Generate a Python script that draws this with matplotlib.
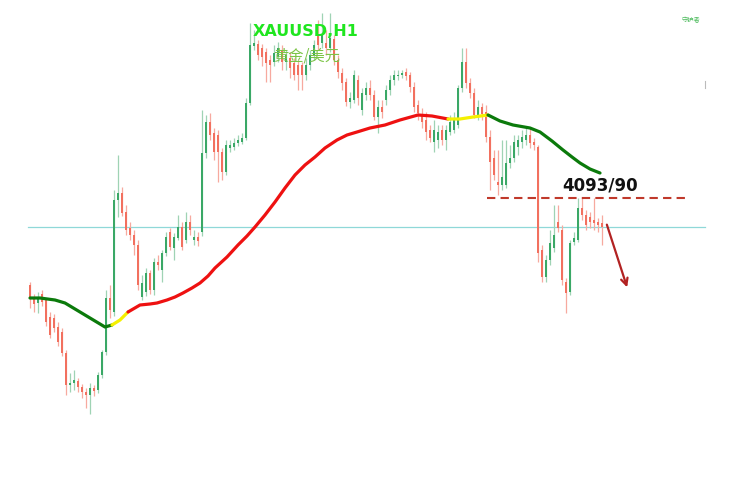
import numpy as np
import matplotlib
matplotlib.use("Agg")
import matplotlib.pyplot as plt

# XAUUSD H1 candles (oldest first)
opens = [4006, 3993, 3988, 3997, 3991, 3974, 3973, 3964, 3959, 3938,
         3906, 3908, 3910, 3904, 3899, 3896, 3903, 3901, 3916, 3939,
         3993, 3979, 4091, 4098, 4079, 4063, 4056, 4046, 3994, 3999,
         4018, 4001, 4029, 4021, 4038, 4059, 4043, 4053, 4064, 4051,
         4069, 4051, 4054, 4059, 4138, 4169, 4158, 4156, 4139, 4119,
         4143, 4144, 4148, 4149, 4153, 4188, 4245, 4247, 4243, 4239,
         4231, 4229, 4234, 4241, 4229, 4233, 4228, 4226, 4226, 4216,
         4226, 4236, 4256, 4248, 4248, 4243, 4252, 4231, 4218, 4209,
         4189, 4191, 4211, 4181, 4196, 4203, 4196, 4174, 4184, 4191,
         4201, 4211, 4215, 4216, 4219, 4216, 4204, 4186, 4176, 4171,
         4161, 4149, 4151, 4161, 4151, 4159, 4161, 4166, 4203, 4229,
         4208, 4198, 4174, 4184, 4179, 4154, 4133, 4109, 4106, 4106,
         4128, 4133, 4144, 4149, 4151, 4156, 4149, 4144, 4041, 4014,
         4031, 4043, 4069, 4061, 4009, 3999, 4049, 4051, 4083, 4076,
         4074, 4071, 4069, 4068]
closes = [3994, 3987, 3994, 3989, 3969, 3956, 3963, 3949, 3938, 3906,
          3908, 3911, 3904, 3899, 3896, 3903, 3900, 3916, 3939, 3993,
          3981, 4091, 4098, 4078, 4061, 4056, 4046, 4006, 4008, 4018,
          4001, 4029, 4026, 4038, 4054, 4044, 4054, 4064, 4044, 4069,
          4061, 4054, 4050, 4138, 4169, 4156, 4139, 4139, 4119, 4146,
          4146, 4148, 4151, 4153, 4188, 4246, 4248, 4236, 4234, 4228,
          4226, 4238, 4243, 4229, 4236, 4223, 4216, 4216, 4216, 4226,
          4236, 4246, 4246, 4256, 4243, 4253, 4231, 4219, 4208, 4189,
          4193, 4216, 4193, 4198, 4203, 4196, 4174, 4184, 4179, 4201,
          4211, 4216, 4216, 4218, 4215, 4204, 4184, 4178, 4169, 4159,
          4153, 4161, 4159, 4151, 4161, 4169, 4173, 4203, 4229, 4208,
          4198, 4176, 4184, 4177, 4154, 4129, 4116, 4106, 4114, 4128,
          4133, 4149, 4151, 4154, 4156, 4148, 4146, 4038, 4014, 4031,
          4048, 4056, 4063, 4011, 3998, 4048, 4053, 4083, 4076, 4066,
          4069, 4068, 4066, 4064]
highs = [4009, 3997, 3999, 4001, 3993, 3979, 3977, 3969, 3963, 3941,
         3918, 3921, 3913, 3907, 3903, 3908, 3906, 3919, 3941, 4001,
         4006, 4101, 4136, 4104, 4086, 4069, 4061, 4051, 4016, 4023,
         4021, 4033, 4036, 4041, 4059, 4063, 4058, 4076, 4069, 4079,
         4076, 4061, 4059, 4181, 4176, 4178, 4163, 4161, 4143, 4151,
         4151, 4153, 4156, 4158, 4193, 4268, 4261, 4251, 4247, 4243,
         4236, 4246, 4249, 4246, 4241, 4239, 4233, 4231, 4229, 4233,
         4241, 4251, 4271, 4278, 4261, 4278, 4256, 4236, 4223, 4213,
         4199, 4221, 4216, 4203, 4209, 4211, 4201, 4191, 4191, 4206,
         4216, 4221, 4221, 4221, 4223, 4219, 4209, 4191, 4183, 4179,
         4166, 4171, 4166, 4166, 4166, 4176, 4179, 4206, 4243, 4243,
         4213, 4203, 4191, 4188, 4186, 4161, 4141, 4141, 4151, 4151,
         4146, 4156, 4156, 4161, 4163, 4163, 4153, 4146, 4046, 4036,
         4061, 4086, 4086, 4066, 4013, 4051, 4059, 4093, 4093, 4081,
         4079, 4093, 4073, 4076]
lows = [3983, 3979, 3978, 3985, 3965, 3953, 3959, 3945, 3935, 3896,
        3899, 3901, 3899, 3893, 3883, 3877, 3895, 3898, 3913, 3936,
        3973, 3975, 4074, 4075, 4056, 4051, 4036, 4001, 3991, 3995,
        3997, 3996, 4021, 4009, 4035, 4041, 4031, 4051, 4041, 4048,
        4056, 4046, 4045, 4055, 4133, 4151, 4131, 4109, 4111, 4116,
        4139, 4141, 4145, 4147, 4151, 4186, 4241, 4231, 4225, 4209,
        4209, 4225, 4229, 4221, 4221, 4213, 4211, 4201, 4201, 4211,
        4221, 4231, 4241, 4243, 4236, 4239, 4226, 4213, 4201, 4185,
        4183, 4188, 4186, 4176, 4191, 4191, 4171, 4158, 4173, 4186,
        4196, 4206, 4211, 4213, 4211, 4199, 4179, 4171, 4163, 4151,
        4149, 4139, 4143, 4146, 4141, 4156, 4158, 4163, 4199, 4203,
        4193, 4173, 4171, 4171, 4149, 4101, 4111, 4096, 4101, 4103,
        4123, 4129, 4136, 4143, 4146, 4143, 4141, 4029, 4009, 4009,
        4026, 4039, 4059, 4006, 3978, 3996, 4046, 4049, 4071, 4061,
        4063, 4061, 4059, 4046]

# moving average line (bar index, value)
ma_idx = [0, 2.5, 6.25, 8.75, 11.25, 13.75, 16.25, 18.75, 20.5, 22.5,
          24.5, 27.5, 30, 31.75, 34.25, 36.25, 38.25, 40.5, 42.5, 44.5,
          46.25, 49.25, 52, 54.25, 56.25, 58.75, 61.25, 63.75, 66.25, 68.75,
          71.25, 73.75, 76.75, 79.25, 81.75, 85, 88.75, 92.5, 97, 100.5,
          104.5, 107.5, 110.75, 114.5, 117.5, 120.75, 125, 127.5, 130.5, 133.25,
          135.5, 137.5, 140, 142.5]
ma_val = [3993, 3993, 3991, 3988, 3982, 3976, 3970, 3964, 3966, 3971,
          3979, 3986, 3987, 3988, 3991, 3994, 3998, 4003, 4008, 4015,
          4023, 4034, 4046, 4055, 4064, 4076, 4089, 4103, 4116, 4126,
          4134, 4143, 4151, 4156, 4159, 4163, 4166, 4171, 4176, 4175,
          4172, 4172, 4174, 4176, 4170, 4166, 4163, 4159, 4150, 4141,
          4134, 4128, 4122, 4118]
# colour changes of the MA (bar index where each part ends)
ma_parts = [(0, 20.5, "#0b7a0b"), (20.5, 24.5, "#f5f000"), (24.5, 104.5, "#ee1111"),
            (104.5, 114.5, "#f5f000"), (114.5, 142.5, "#0b7a0b")]

level = 4093
mid_line = 4064

opens = np.array(opens); closes = np.array(closes)
highs = np.array(highs); lows = np.array(lows)
x = np.arange(len(opens))

fig = plt.figure(figsize=(7.39, 4.84), dpi=100)
ax = fig.add_axes([0, 0, 1, 1])
ax.set_xlim(-7.5, 177.25)
ax.set_ylim(3807, 4291)
ax.axis("off")

up = closes >= opens
col = np.where(up, "#3aa866", "#f2705f")
wick = np.where(up, "#9fd3b4", "#f7a99f")

ax.axhline(mid_line, xmin=28 / 739, xmax=705 / 739, color="#8fd8d8", lw=0.9, zorder=1)

ax.vlines(x, lows, highs, colors=wick, lw=0.9, zorder=2)
bottom = np.minimum(opens, closes)
height = np.maximum(np.abs(closes - opens), 1.5)
ax.bar(x, height, bottom=bottom, width=0.74, color=col, lw=0, zorder=3)

ma_idx = np.array(ma_idx); ma_val = np.array(ma_val)
for a, b, c in ma_parts:
    m = (ma_idx >= a) & (ma_idx <= b)
    ax.plot(ma_idx[m], ma_val[m], color=c, lw=2.3, solid_capstyle="round",
            solid_joinstyle="round", zorder=4)

ax.plot([114.25, 165], [level, level], color="#c0392b", lw=1.5, ls=(0, (4, 2.5)), zorder=4)
ax.text(142.5, 4105, "4093/90", ha="center", va="center", fontsize=12,
        fontweight="bold", color="#111111", family="DejaVu Sans", zorder=5)
ax.annotate("", xy=(149.5, 4001), xytext=(144, 4069),
            arrowprops=dict(arrowstyle="->", color="#b22222", lw=1.6, mutation_scale=12), zorder=5)

ax.text(306 / 739, 1 - 32 / 484, "XAUUSD,H1", transform=ax.transAxes, ha="center",
        va="center", fontsize=11.5, fontweight="bold", color="#1fe61f", family="DejaVu Sans")
ax.text(307 / 739, 1 - 56 / 484, "黄金/美元", transform=ax.transAxes, ha="center",
        va="center", fontsize=11, color="#7cc447", family=["Noto Sans CJK SC", "DejaVu Sans"])
ax.text(691 / 739, 1 - 20 / 484, "守护者", transform=ax.transAxes, ha="center",
        va="center", fontsize=4.5, color="#4cbb5c", family=["Noto Sans CJK SC", "DejaVu Sans"])
ax.plot([705 / 739, 705 / 739], [1 - 81 / 484, 1 - 88 / 484], transform=ax.transAxes,
        color="#bbbbbb", lw=0.8)

fig.savefig("out.png", dpi=100)
